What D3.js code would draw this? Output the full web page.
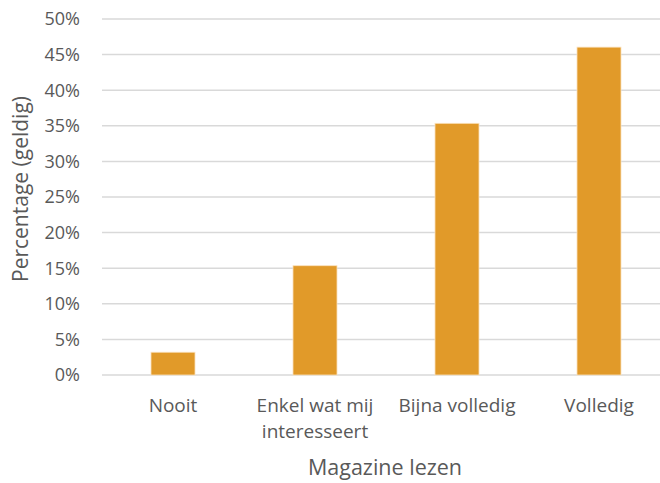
<!DOCTYPE html>
<html><head><meta charset="utf-8">
<script src="https://cdn.jsdelivr.net/npm/d3@7"></script>
<style>body{margin:0;background:#fff}svg{display:block}</style>
</head><body>
<script>
const categories = [["Nooit"], ["Enkel wat mij", "interesseert"], ["Bijna volledig"], ["Volledig"]];
const values = [3.2, 15.35, 35.35, 46.05];
const yTicks = [0, 5, 10, 15, 20, 25, 30, 35, 40, 45, 50];
const yTitle = "Percentage (geldig)";
const xTitle = "Magazine lezen";

const W = 660, H = 483;
const mLeft = 102, mRight = 670, mTop = 19, mBottom = 375;
const font = "'Open Sans', sans-serif";
const txt = "#595959";

const svg = d3.select("body").append("svg").attr("width", W).attr("height", H);
const labels = categories.map(c => c.join(" "));
const x = d3.scaleBand().domain(labels).range([mLeft, mRight]).paddingInner(0.69).paddingOuter(0.345);
const y = d3.scaleLinear().domain([0, 50]).range([mBottom, mTop]);

svg.append("g").selectAll("line").data(yTicks).join("line")
  .attr("x1", mLeft).attr("x2", mRight)
  .attr("y1", d => y(d)).attr("y2", d => y(d))
  .attr("stroke", "#d9d9d9").attr("stroke-width", 1.5);

svg.append("g").selectAll("text").data(yTicks).join("text")
  .attr("x", 80).attr("y", d => y(d)).attr("dy", "0.36em")
  .attr("text-anchor", "end").attr("font-family", font).attr("font-size", 18)
  .attr("fill", txt).text(d => d + "%");

svg.append("g").selectAll("rect").data(values).join("rect")
  .attr("x", (d, i) => x(labels[i])).attr("width", x.bandwidth())
  .attr("y", d => y(d)).attr("height", d => y(0) - y(d))
  .attr("fill", "#E19A29").attr("stroke", "#fbe3c0").attr("stroke-width", 0.8);

const xl = svg.append("g");
categories.forEach((c, i) => {
  const cx = x(labels[i]) + x.bandwidth() / 2;
  const t = xl.append("text").attr("x", cx)
    .attr("text-anchor", "middle").attr("font-family", font).attr("font-size", 19).attr("fill", txt);
  c.forEach((line, j) => t.append("tspan").attr("x", cx).attr("y", 412 + j * 26).text(line));
});

svg.append("text").attr("x", 385).attr("y", 475).attr("text-anchor", "middle")
  .attr("font-family", font).attr("font-size", 21.5).attr("fill", txt).text(xTitle);
svg.append("text").attr("transform", "translate(28,189) rotate(-90)").attr("text-anchor", "middle")
  .attr("font-family", font).attr("font-size", 21).attr("fill", txt).text(yTitle);
</script>
</body></html>
